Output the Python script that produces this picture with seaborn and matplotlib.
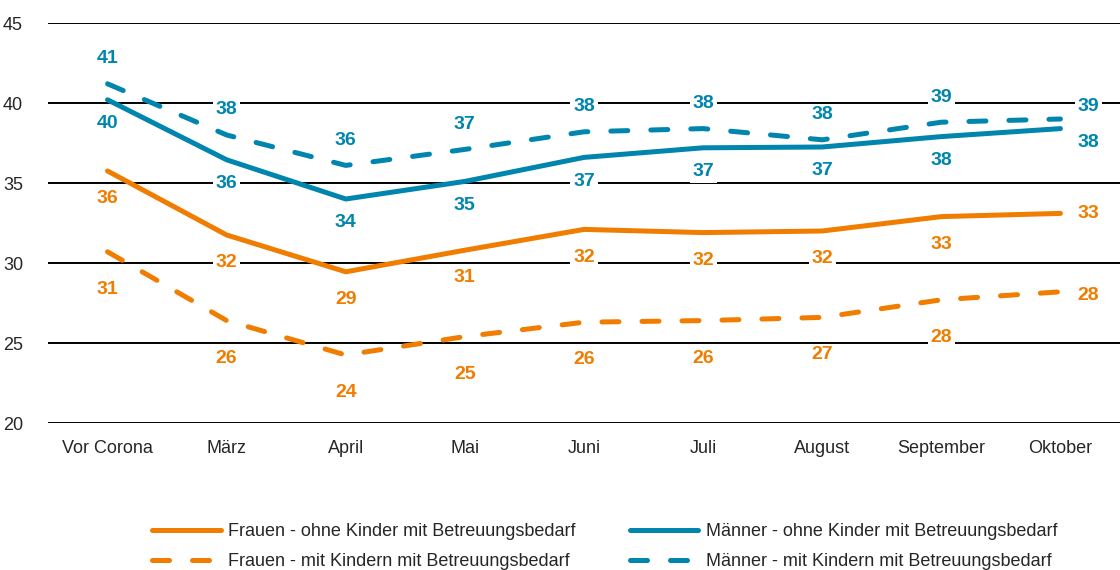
import numpy as np
import pandas as pd
import matplotlib
matplotlib.use("Agg")
import matplotlib.pyplot as plt
import seaborn as sns

# data
monate = ["Vor Corona", "März", "April", "Mai", "Juni", "Juli", "August", "September", "Oktober"]
frauen_ohne = [35.75, 31.75, 29.45, 30.8, 32.1, 31.9, 32.0, 32.9, 33.1]
frauen_mit = [30.7, 26.4, 24.25, 25.4, 26.3, 26.4, 26.6, 27.7, 28.2]
maenner_ohne = [40.2, 36.45, 34.0, 35.1, 36.6, 37.2, 37.25, 37.9, 38.4]
maenner_mit = [41.2, 38.0, 36.1, 37.1, 38.2, 38.4, 37.7, 38.8, 39.0]
gruppen = [
    "Frauen - ohne Kinder mit Betreuungsbedarf",
    "Frauen - mit Kindern mit Betreuungsbedarf",
    "Männer - ohne Kinder mit Betreuungsbedarf",
    "Männer - mit Kindern mit Betreuungsbedarf",
]
y_ticks = [20, 25, 30, 35, 40, 45]

ORANGE = "#F07D00"
BLUE = "#0086AE"
DASH = (3.4, 4.6)
palette = {gruppen[0]: ORANGE, gruppen[1]: ORANGE, gruppen[2]: BLUE, gruppen[3]: BLUE}
dashes = {gruppen[0]: "", gruppen[1]: DASH, gruppen[2]: "", gruppen[3]: DASH}

series = [frauen_ohne, frauen_mit, maenner_ohne, maenner_mit]
df = pd.concat(
    [pd.DataFrame({"Monat": monate, "Wert": vals, "Gruppe": g}) for g, vals in zip(gruppen, series)],
    ignore_index=True,
)

sns.set_theme(style="white")
plt.rcParams["font.family"] = ["Liberation Sans", "DejaVu Sans"]

fig = plt.figure(figsize=(11.2, 5.7), dpi=100)
ax = fig.add_axes([48 / 1120, 1 - 423 / 570, 1 - 48 / 1120, 400 / 570])

sns.lineplot(data=df, x="Monat", y="Wert", hue="Gruppe", style="Gruppe",
             palette=palette, dashes=dashes, linewidth=3.6, ax=ax, zorder=3,
             legend=False, sort=False)
for line in ax.get_lines():
    line.set_solid_capstyle("round")
    line.set_dash_capstyle("round")

ax.set_ylim(20, 45)
ax.set_xlim(-0.5, 8.5)
ax.set_yticks(y_ticks)
ax.yaxis.grid(True, color="black", linewidth=1.4, zorder=0)
ax.xaxis.grid(False)
ax.set_axisbelow(True)
for s in ax.spines.values():
    s.set_visible(False)
ax.tick_params(axis="y", length=0, pad=18, labelsize=13)
ax.tick_params(axis="x", length=0, pad=12, labelsize=13)
ax.set_xlabel("")
ax.set_ylabel("")

# value labels: offset per series (points), last point to the right
label_off = [-20, -27, -17, 18]
last_off = [0, -3, -10, 9]
colors = [ORANGE, ORANGE, BLUE, BLUE]
for vals, dy, ly, col in zip(series, label_off, last_off, colors):
    for i, v in enumerate(vals):
        if i == len(vals) - 1:
            xy_off = (20, ly)
        else:
            xy_off = (0, dy)
        ax.annotate(f"{v:.0f}", (i, v), xytext=xy_off, textcoords="offset points",
                    ha="center", va="center", color=col, fontsize=14, fontweight="bold",
                    bbox=dict(facecolor="white", edgecolor="none", pad=2), zorder=4)

handles = [
    plt.Line2D([], [], color=ORANGE, lw=3.6, solid_capstyle="round"),
    plt.Line2D([], [], color=ORANGE, lw=3.6, dashes=DASH, dash_capstyle="round"),
    plt.Line2D([], [], color=BLUE, lw=3.6, solid_capstyle="round"),
    plt.Line2D([], [], color=BLUE, lw=3.6, dashes=DASH, dash_capstyle="round"),
]
fig.legend(handles, gruppen, loc="upper center", bbox_to_anchor=(0.54, 0.082), ncol=2,
           frameon=False, fontsize=13, handlelength=3.8, handletextpad=0.4,
           columnspacing=3.0, labelspacing=0.72, borderaxespad=0, borderpad=0)

fig.savefig("out.png", dpi=100)
